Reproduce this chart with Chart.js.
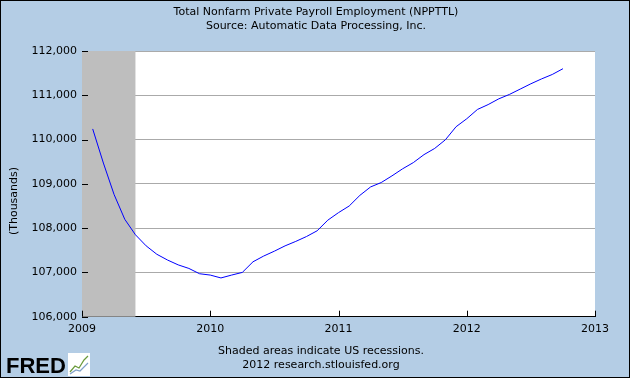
<!DOCTYPE html>
<html lang="en">
<head>
  <meta charset="UTF-8">
  <title>Total Nonfarm Private Payroll Employment (NPPTTL)</title>
  <script src="https://cdn.jsdelivr.net/npm/chart.js"></script>
  <style>
    html, body { margin: 0; padding: 0; background: #b4cde5; }
    #wrap { width: 630px; height: 378px; }
  </style>
</head>
<body>
  <div id="wrap"><canvas id="payroll" width="630" height="378"></canvas></div>

  <script>
    // monthly ADP series (thousands)
    const months = [
      '2009-02', '2009-03', '2009-04', '2009-05', '2009-06', '2009-07', '2009-08', '2009-09', '2009-10', '2009-11', '2009-12',
      '2010-01', '2010-02', '2010-03', '2010-04', '2010-05', '2010-06', '2010-07', '2010-08', '2010-09', '2010-10', '2010-11', '2010-12',
      '2011-01', '2011-02', '2011-03', '2011-04', '2011-05', '2011-06', '2011-07', '2011-08', '2011-09', '2011-10', '2011-11', '2011-12',
      '2012-01', '2012-02', '2012-03', '2012-04', '2012-05', '2012-06', '2012-07', '2012-08', '2012-09', '2012-10'
    ];
    const payroll = [
      110240, 109470, 108760, 108200, 107850, 107600, 107410, 107280, 107170, 107090, 106970,
      106940, 106875, 106940, 107000, 107240, 107370, 107480, 107600, 107700, 107810, 107940, 108180,
      108350, 108500, 108740, 108930, 109030, 109180, 109340, 109480, 109660, 109800, 109995, 110290,
      110470, 110680, 110790, 110920, 111020, 111140, 111260, 111370, 111470, 111600
    ];
    const yearTicks = [2009, 2010, 2011, 2012, 2013];
    const payrollTicks = [106000, 107000, 108000, 109000, 110000, 111000, 112000];
    const recessions = [['2009-01', '2009-06']];

    const titleLines = ['Total Nonfarm Private Payroll Employment (NPPTTL)', 'Source: Automatic Data Processing, Inc.'];
    const footerLines = ['Shaded areas indicate US recessions.', '2012 research.stlouisfed.org'];
    const yTitle = '(Thousands)';

    const FONT = "11px 'DejaVu Sans', Verdana, sans-serif";

    function toYear(m) {
      const [y, mo] = m.split('-').map(Number);
      return y + (mo - 1) / 12;
    }

    // backgrounds, recession bars, inner tick marks and the text around the plot
    const fredFrame = {
      id: 'fredFrame',
      beforeDraw(chart) {
        const { ctx, chartArea: a } = chart;
        ctx.save();
        ctx.fillStyle = '#b4cde5';
        ctx.fillRect(0, 0, chart.width, chart.height);
        ctx.fillStyle = '#ffffff';
        ctx.fillRect(a.left, a.top, a.right - a.left, a.bottom - a.top);
        ctx.restore();
      },
      beforeDatasetsDraw(chart) {
        const { ctx, chartArea: a, scales: { x } } = chart;
        ctx.save();
        ctx.fillStyle = '#bebebe';
        recessions.forEach(([from, to]) => {
          const x0 = x.getPixelForValue(toYear(from));
          const x1 = x.getPixelForValue(toYear(to));
          ctx.fillRect(x0, a.top, x1 - x0, a.bottom - a.top);
        });
        ctx.restore();
      },
      afterDatasetsDraw(chart) {
        const { ctx, chartArea: a, scales: { x, y } } = chart;
        ctx.save();
        ctx.strokeStyle = '#000';
        ctx.lineWidth = 1;
        ctx.beginPath();
        payrollTicks.forEach(v => {
          const py = Math.round(y.getPixelForValue(v)) + 0.5;
          ctx.moveTo(a.left, py);
          ctx.lineTo(a.left + 6, py);
        });
        yearTicks.forEach(v => {
          const px = Math.round(x.getPixelForValue(v)) + 0.5;
          ctx.moveTo(px, a.bottom);
          ctx.lineTo(px, a.bottom - 6);
        });
        ctx.stroke();
        ctx.restore();
      },
      afterDraw(chart) {
        const { ctx } = chart;
        ctx.save();
        ctx.fillStyle = '#000';
        ctx.font = FONT;
        ctx.textAlign = 'center';
        ctx.textBaseline = 'middle';
        ctx.fillText(titleLines[0], 316, 12);
        ctx.fillText(titleLines[1], 316, 26);
        ctx.fillText(footerLines[0], 321, 351);
        ctx.fillText(footerLines[1], 321, 365);

        ctx.save();
        ctx.translate(14, 201);
        ctx.rotate(-Math.PI / 2);
        ctx.fillText(yTitle, 0, 0);
        ctx.restore();

        // FRED logo
        ctx.font = "bold 22px 'Liberation Sans', Arial, sans-serif";
        ctx.textAlign = 'left';
        ctx.textBaseline = 'alphabetic';
        ctx.fillText('FRED', 6, 373);
        ctx.fillStyle = '#ffffff';
        ctx.fillRect(68, 353, 22, 23);
        ctx.strokeStyle = '#6a9a3a';
        ctx.lineWidth = 1.2;
        ctx.beginPath();
        ctx.moveTo(70, 372); ctx.lineTo(75, 366); ctx.lineTo(79, 368); ctx.lineTo(84, 360); ctx.lineTo(88, 356);
        ctx.stroke();
        ctx.strokeStyle = '#7fa0c8';
        ctx.beginPath();
        ctx.moveTo(70, 374); ctx.lineTo(76, 370); ctx.lineTo(80, 371); ctx.lineTo(88, 363);
        ctx.stroke();

        ctx.strokeStyle = '#000';
        ctx.lineWidth = 1;
        ctx.strokeRect(0.5, 0.5, chart.width - 1, chart.height - 1);
        ctx.restore();
      }
    };

    const ctx = document.getElementById('payroll').getContext('2d');
    new Chart(ctx, {
      type: 'line',
      data: {
        datasets: [{
          label: 'NPPTTL',
          data: months.map((m, i) => ({ x: toYear(m), y: payroll[i] })),
          borderColor: '#0000ff',
          borderWidth: 1,
          pointRadius: 0,
          tension: 0,
          fill: false
        }]
      },
      options: {
        responsive: false,
        animation: false,
        layout: { padding: { top: 51, right: 35, bottom: 0, left: 0 } },
        plugins: {
          legend: { display: false },
          tooltip: { enabled: false },
          title: { display: false }
        },
        scales: {
          x: {
            type: 'linear',
            min: 2009,
            max: 2013,
            afterBuildTicks: s => { s.ticks = yearTicks.map(v => ({ value: v })); },
            afterFit: s => { s.height = 61.3; },
            grid: { display: false, drawTicks: false },
            border: { display: true, color: '#000', width: 1 },
            ticks: {
              color: '#000',
              padding: 6,
              maxRotation: 0,
              font: { family: "'DejaVu Sans', Verdana, sans-serif", size: 11 },
              callback: v => String(v)
            }
          },
          y: {
            min: 106000,
            max: 112000,
            afterBuildTicks: s => { s.ticks = payrollTicks.map(v => ({ value: v })); },
            afterFit: s => { s.width = 82; },
            grid: { color: '#aaaaaa', lineWidth: 1, drawTicks: false },
            border: { display: true, color: '#000', width: 1 },
            ticks: {
              color: '#000',
              padding: 5,
              font: { family: "'DejaVu Sans', Verdana, sans-serif", size: 11 },
              callback: v => v.toLocaleString('en-US')
            }
          }
        }
      },
      plugins: [fredFrame]
    });
  </script>
</body>
</html>
